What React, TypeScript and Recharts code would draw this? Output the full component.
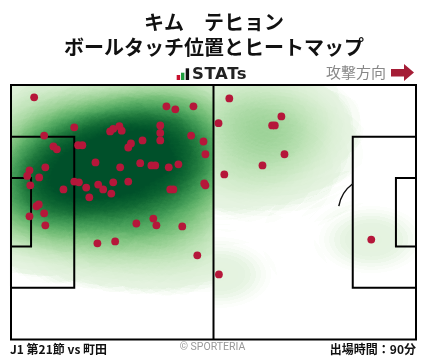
import React from "react";
import {
  ScatterChart,
  Scatter,
  XAxis,
  YAxis,
  ReferenceArea,
  ReferenceLine,
  ReferenceDot,
} from "recharts";

// ball touches, metres from own goal line (x) and from top touchline (y)
const touchX = [
  6.0, 40.3, 42.6, 47.3, 56.6, 16.4, 53.8, 70.1, 67.7, 68.4, 8.6, 25.7, 26.5, 28.1, 28.7,
  38.7, 38.7, 38.7, 34.1, 31.1, 30.4, 46.7, 49.9, 50.4, 11.0, 11.9, 17.4, 18.5, 21.9, 8.9,
  4.8, 4.2, 7.3, 5.0, 28.3, 33.5, 36.4, 37.4, 40.9, 43.4, 16.4, 17.6, 13.6, 19.5, 22.6,
  23.9, 26.5, 30.4, 26.0, 20.3, 41.3, 42.1, 50.1, 50.4, 6.6, 7.2, 8.6, 4.8, 36.9, 8.9,
  32.5, 37.7, 44.4, 22.4, 27.0, 48.3, 53.9, 70.9, 65.2, 55.3, 93.4,
];
const touchY = [
  3.3, 5.7, 6.5, 5.7, 3.6, 11.3, 10.2, 8.4, 10.8, 10.8, 13.5, 12.4, 11.7, 11.0, 12.2,
  10.8, 12.8, 14.8, 14.8, 15.6, 16.7, 13.5, 15.1, 18.5, 16.4, 17.2, 16.1, 16.1, 20.7, 22.0,
  22.8, 24.3, 24.7, 26.8, 22.0, 20.9, 21.5, 21.5, 22.0, 21.2, 25.8, 26.0, 27.9, 27.4, 26.6,
  27.9, 26.0, 25.8, 29.0, 30.0, 27.9, 27.9, 26.3, 26.8, 32.4, 31.9, 34.3, 35.1, 35.7, 37.5,
  37.0, 37.5, 37.8, 42.3, 41.8, 45.5, 50.6, 18.5, 21.5, 23.9, 41.3,
];

const touches = touchX.map((x, i) => ({ x, y: touchY[i] }));

const playerName = "キム　テヒョン";
const chartTitle = "ボールタッチ位置とヒートマップ";
const matchLabel = "J1 第21節 vs 町田";
const minutesLabel = "出場時間：90分";

// Greens colour ramp used for the heat layer
const rampR = [242, 220, 192, 159, 124, 90, 61, 37, 18, 6, 0];
const rampG = [249, 240, 228, 212, 194, 174, 151, 127, 106, 92, 80];
const rampB = [240, 214, 185, 154, 125, 102, 83, 65, 53, 46, 42];

const PITCH_L = 105;
const PITCH_W = 68;
const BOX_D = 16.4;
const BOX_W = 40.3;
const SIX_D = 5.2;
const SIX_W = 18.3;
const SPOT = 11;
const ARC_R = 9.15;

const W = 428;
const H = 359;
const MARGIN = { top: 85, right: 12, bottom: 19.5, left: 11 };
const PX_PER_M = (W - MARGIN.left - MARGIN.right) / PITCH_L;
const PY_PER_M = (H - MARGIN.top - MARGIN.bottom) / PITCH_W;

const KERNEL_SX = 42;
const KERNEL_SY = 27;
const KERNEL_PEAK = 0.055;
const DENSITY_SCALE = 1.15;
const THRESHOLD = 0.0245;

const kernelStops = [0, 0.1, 0.2, 0.3, 0.4, 0.5, 0.6, 0.7, 0.8, 0.9, 1];

// heat is smoothed separately in each half
type Rect = [number, number, number, number];
const sixRect: Rect = [0, SIX_D, (PITCH_W - SIX_W) / 2, (PITCH_W + SIX_W) / 2];
const boxRect: Rect = [0, BOX_D, (PITCH_W - BOX_W) / 2, (PITCH_W + BOX_W) / 2];
const leftRect: Rect = [0, PITCH_L / 2, 0, PITCH_W];
const rightRect: Rect = [PITCH_L / 2, PITCH_L, 0, PITCH_W];

const zones = [
  { id: "left", rect: leftRect, points: touches.filter((p) => p.x <= PITCH_L / 2) },
  { id: "right", rect: rightRect, points: touches.filter((p) => p.x > PITCH_L / 2) },
];

const rectPath = (r: Rect) => {
  const x0 = MARGIN.left + r[0] * PX_PER_M;
  const x1 = MARGIN.left + r[1] * PX_PER_M;
  const y0 = MARGIN.top + r[2] * PY_PER_M;
  const y1 = MARGIN.top + r[3] * PY_PER_M;
  return `M${x0},${y0}H${x1}V${y1}H${x0}Z`;
};

const toTable = (v: number[]) => v.map((c) => (c / 255).toFixed(3)).join(" ");

function HeatDefs() {
  const s = DENSITY_SCALE;
  const k = 50;
  return (
    <svg width={0} height={0} style={{ position: "absolute" }}>
      <defs>
        <radialGradient id="touchKernel">
          {kernelStops.map((t) => (
            <stop
              key={t}
              offset={t}
              stopColor="#000"
              stopOpacity={KERNEL_PEAK * Math.exp(-4.5 * t * t)}
            />
          ))}
        </radialGradient>
        <filter id="heatFilter" colorInterpolationFilters="sRGB">
          <feColorMatrix
            type="matrix"
            values={`0 0 0 ${s} 0  0 0 0 ${s} 0  0 0 0 ${s} 0  0 0 0 ${k} ${-k * THRESHOLD}`}
          />
          <feComponentTransfer>
            <feFuncR type="table" tableValues={toTable(rampR)} />
            <feFuncG type="table" tableValues={toTable(rampG)} />
            <feFuncB type="table" tableValues={toTable(rampB)} />
          </feComponentTransfer>
        </filter>
        {zones.map((z) => (
          <clipPath key={z.id} id={`zone-${z.id}`} clipPathUnits="userSpaceOnUse">
            <path d={rectPath(z.rect)} />
          </clipPath>
        ))}
      </defs>
    </svg>
  );
}

const KernelShape = (p: any) => (
  <ellipse
    cx={p.cx}
    cy={p.cy}
    rx={KERNEL_SX * 3}
    ry={KERNEL_SY * 3}
    fill="url(#touchKernel)"
    style={{ mixBlendMode: "plus-lighter" }}
  />
);

const TouchDot = (p: any) => <circle cx={p.cx} cy={p.cy} r={3.9} fill="#b5173a" />;

// upper part of the penalty arc (the rest sits under the heat)
const ArcShape = (p: any) => {
  const r = ARC_R * PX_PER_M;
  const edge = p.cx - (BOX_D - SPOT) * PX_PER_M;
  const h = Math.sqrt(r * r - (p.cx - edge) * (p.cx - edge));
  const end = (190 * Math.PI) / 180;
  return (
    <path
      d={`M${edge},${p.cy - h} A${r},${r} 0 0 0 ${p.cx + r * Math.cos(end)},${p.cy + r * Math.sin(end)}`}
      fill="none"
      stroke="#111"
      strokeWidth={1.5}
    />
  );
};

const line = { stroke: "#000", strokeWidth: 2, fill: "none", fillOpacity: 0 };

const css =
  `.heat-layer { filter: url(#heatFilter); mix-blend-mode: multiply; }` +
  zones.map((z) => `.heat-${z.id} { clip-path: url(#zone-${z.id}); }`).join(" ");

export default function App() {
  const cjk = '"Noto Sans CJK JP", "Noto Sans", sans-serif';
  return (
    <div
      style={{
        position: "absolute",
        left: 0,
        top: 0,
        width: W,
        height: H,
        background: "#fff",
        fontFamily: cjk,
        color: "#111",
      }}
    >
      <style>{css}</style>
      <HeatDefs />
      <div
        style={{
          position: "absolute",
          top: 8.5,
          left: 0,
          width: W,
          textAlign: "center",
          fontSize: 20,
          fontWeight: 700,
          lineHeight: "25px",
        }}
      >
        <div>{playerName}</div>
        <div>{chartTitle}</div>
      </div>

      <svg style={{ position: "absolute", left: 176, top: 68 }} width={14} height={13}>
        <rect x={0.7} y={7} width={3.4} height={5} fill="#c8102e" />
        <rect x={5} y={4.7} width={3.4} height={7.3} fill="#1e9e3e" />
        <rect x={9.7} y={0.3} width={3.4} height={11.7} fill="#111" />
      </svg>
      <div
        style={{
          position: "absolute",
          left: 192,
          top: 64,
          fontFamily: '"DejaVu Sans", sans-serif',
          fontWeight: 700,
          fontSize: 16.5,
          letterSpacing: 0.6,
          lineHeight: "20px",
          color: "#222",
        }}
      >
        STATs
      </div>

      <div
        style={{
          position: "absolute",
          left: 326,
          top: 62,
          fontSize: 15,
          lineHeight: "20px",
          color: "#888",
        }}
      >
        攻撃方向
      </div>
      <svg style={{ position: "absolute", left: 390, top: 63 }} width={26} height={20}>
        <polygon points="1,6 14,6 14,1 24,9.5 14,18 14,13.5 1,13.5" fill="#a51d36" />
      </svg>

      <div style={{ position: "absolute", left: 0, top: 0 }}>
        <ScatterChart width={W} height={H} margin={MARGIN}>
          <XAxis type="number" dataKey="x" domain={[0, PITCH_L]} hide allowDataOverflow />
          <YAxis type="number" dataKey="y" domain={[0, PITCH_W]} reversed hide allowDataOverflow />
          <ReferenceDot x={PITCH_L - SPOT} y={PITCH_W / 2} r={0} shape={ArcShape} />
          {zones.map((z) => (
            <Scatter
              key={z.id}
              className={`heat-layer heat-${z.id}`}
              data={z.points}
              shape={KernelShape}
              isAnimationActive={false}
            />
          ))}
          <ReferenceArea x1={0} x2={PITCH_L} y1={0} y2={PITCH_W} {...line} />
          <ReferenceLine x={PITCH_L / 2} stroke="#000" strokeWidth={2} />
          <ReferenceArea x1={boxRect[0]} x2={boxRect[1]} y1={boxRect[2]} y2={boxRect[3]} {...line} />
          <ReferenceArea x1={sixRect[0]} x2={sixRect[1]} y1={sixRect[2]} y2={sixRect[3]} {...line} />
          <ReferenceArea
            x1={PITCH_L - BOX_D}
            x2={PITCH_L}
            y1={boxRect[2]}
            y2={boxRect[3]}
            {...line}
          />
          <ReferenceArea
            x1={PITCH_L - SIX_D}
            x2={PITCH_L}
            y1={sixRect[2]}
            y2={sixRect[3]}
            {...line}
          />
          <Scatter data={touches} shape={TouchDot} isAnimationActive={false} />
        </ScatterChart>
      </div>

      <div
        style={{
          position: "absolute",
          left: 10,
          top: 341,
          fontSize: 12,
          fontWeight: 700,
          lineHeight: "16px",
        }}
      >
        {matchLabel}
      </div>
      <div
        style={{
          position: "absolute",
          left: 0,
          width: W - 3,
          top: 340,
          textAlign: "center",
          fontFamily: '"Roboto", sans-serif',
          fontSize: 10.5,
          lineHeight: "14px",
          color: "#999",
        }}
      >
        © SPORTERIA
      </div>
      <div
        style={{
          position: "absolute",
          right: W - 416,
          top: 341,
          fontSize: 12,
          fontWeight: 700,
          lineHeight: "16px",
        }}
      >
        {minutesLabel}
      </div>
    </div>
  );
}
